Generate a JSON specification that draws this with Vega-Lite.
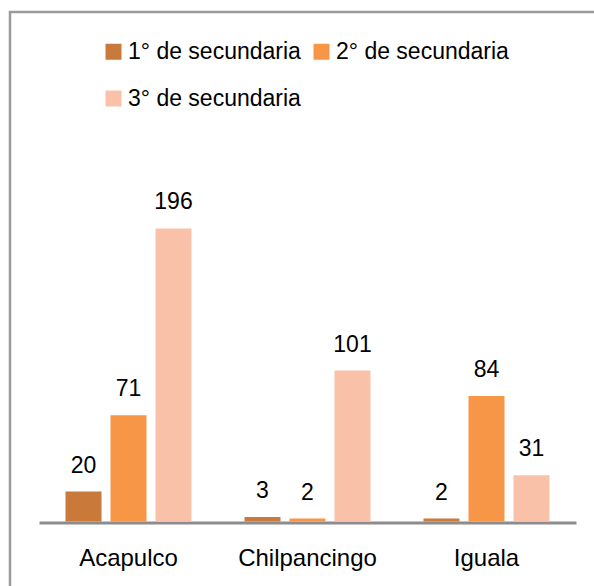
{
  "$schema": "https://vega.github.io/schema/vega-lite/v6.json",
  "autosize": {"type": "none"},
  "padding": {"left": 10, "top": 12, "right": 0, "bottom": 0},
  "width": 600,
  "height": 600,
  "background": "white",
  "config": {
    "view": {"stroke": "#9a9a9a", "strokeWidth": 2.5},
    "font": "Liberation Sans"
  },
  "data": {
    "values": [
      {"ciudad": "Acapulco", "grado": "1° de secundaria", "valor": 20},
      {"ciudad": "Acapulco", "grado": "2° de secundaria", "valor": 71},
      {"ciudad": "Acapulco", "grado": "3° de secundaria", "valor": 196},
      {"ciudad": "Chilpancingo", "grado": "1° de secundaria", "valor": 3},
      {"ciudad": "Chilpancingo", "grado": "2° de secundaria", "valor": 2},
      {"ciudad": "Chilpancingo", "grado": "3° de secundaria", "valor": 101},
      {"ciudad": "Iguala", "grado": "1° de secundaria", "valor": 2},
      {"ciudad": "Iguala", "grado": "2° de secundaria", "valor": 84},
      {"ciudad": "Iguala", "grado": "3° de secundaria", "valor": 31}
    ]
  },
  "encoding": {
    "x": {
      "field": "ciudad",
      "type": "nominal",
      "sort": ["Acapulco", "Chilpancingo", "Iguala"],
      "scale": {"range": [29, 566], "paddingInner": 0, "paddingOuter": 0},
      "axis": {
        "title": null,
        "orient": "bottom",
        "offset": -89.5,
        "domainColor": "#8c8c8c",
        "domainWidth": 3,
        "ticks": false,
        "tickSize": 0,
        "labelAngle": 0,
        "labelFontSize": 24,
        "labelColor": "#000000",
        "labelBaseline": "alphabetic",
        "labelPadding": 42.5,
        "grid": false
      }
    },
    "xOffset": {
      "field": "grado",
      "type": "nominal",
      "sort": ["1° de secundaria", "2° de secundaria", "3° de secundaria"],
      "scale": {"paddingInner": 0.2, "paddingOuter": 0.589}
    },
    "y": {
      "field": "valor",
      "type": "quantitative",
      "scale": {"domain": [0, 250], "range": [509.5, 135.75], "nice": false, "zero": true},
      "axis": null
    }
  },
  "layer": [
    {
      "mark": {"type": "bar"},
      "encoding": {
        "color": {
          "field": "grado",
          "type": "nominal",
          "scale": {
            "domain": ["1° de secundaria", "2° de secundaria", "3° de secundaria"],
            "range": ["#C97A3A", "#F79646", "#F9C2A8"]
          },
          "legend": {
            "orient": "none",
            "legendX": 92,
            "legendY": 28,
            "direction": "horizontal",
            "columns": 2,
            "title": null,
            "symbolType": "square",
            "symbolSize": 256,
            "symbolStrokeWidth": 0,
            "labelFontSize": 23,
            "labelColor": "#000000",
            "labelOffset": 3,
            "columnPadding": 9,
            "rowPadding": 23,
            "labelLimit": 300,
            "padding": 0
          }
        }
      }
    },
    {
      "mark": {"type": "text", "baseline": "alphabetic", "dy": -19, "fontSize": 23, "color": "#000000"},
      "encoding": {
        "text": {"field": "valor", "type": "quantitative"}
      }
    }
  ]
}
